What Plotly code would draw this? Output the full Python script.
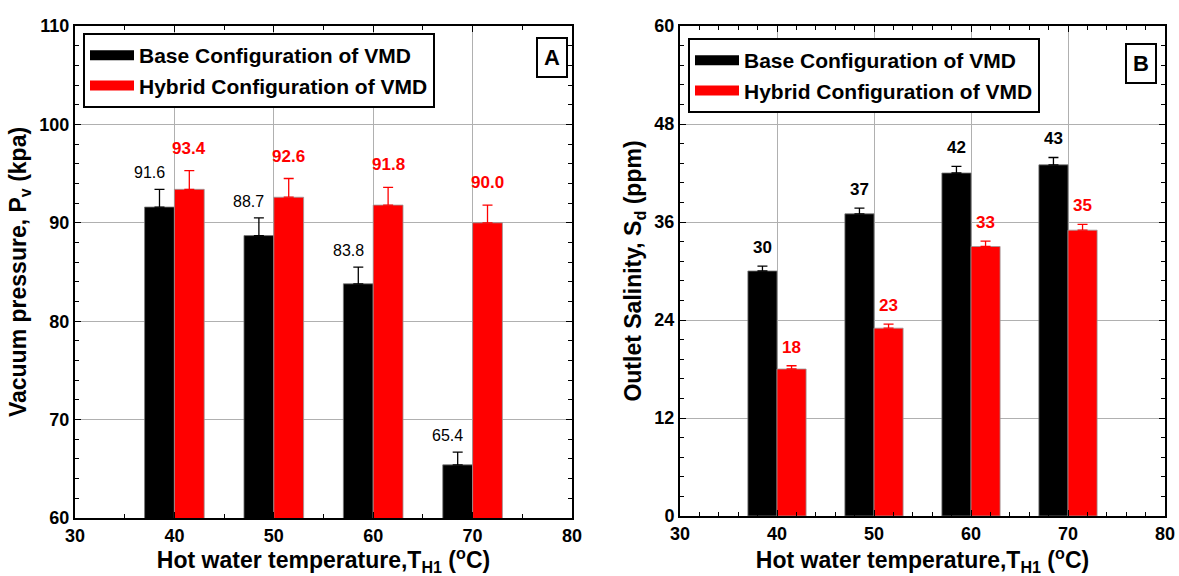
import plotly.graph_objects as go

# ---------------- data ----------------
temps = [40, 50, 60, 70]
series_names = ["Base Configuration of VMD", "Hybrid Configuration of VMD"]

pressure_base = [91.6, 88.7, 83.8, 65.4]
pressure_hybrid = [93.4, 92.6, 91.8, 90.0]
pressure_base_err = [1.8, 1.8, 1.7, 1.3]
pressure_hybrid_err = [1.9, 1.9, 1.8, 1.8]
pressure_base_labels = ["91.6", "88.7", "83.8", "65.4"]
pressure_hybrid_labels = ["93.4", "92.6", "91.8", "90.0"]

salinity_base = [30, 37, 42, 43]
salinity_hybrid = [18, 23, 33, 35]
salinity_base_err = [0.6, 0.7, 0.8, 0.9]
salinity_hybrid_err = [0.4, 0.5, 0.65, 0.7]
salinity_base_labels = ["30", "37", "42", "43"]
salinity_hybrid_labels = ["18", "23", "33", "35"]

x_ticks = [30, 40, 50, 60, 70, 80]
y1_ticks = [60, 70, 80, 90, 100, 110]
y2_ticks = [0, 12, 24, 36, 48, 60]

BLACK = "#000000"
RED = "#ff0000"
FONT = "Liberation Sans, Arial, sans-serif"
BAR_W = 3

W, H = 1179, 576
def px_x(p):
    return p / W
def px_y(p):
    return 1 - p / H

fig = go.Figure()

def add_bars(xa, ya, base, hyb, berr, herr):
    fig.add_trace(go.Bar(
        x=temps, y=base, width=BAR_W, offset=-BAR_W,
        marker=dict(color=BLACK, line=dict(color="#777777", width=0.8)),
        error_y=dict(type="data", array=berr, arrayminus=[0] * len(berr),
                     symmetric=False, color=BLACK, thickness=1.3, width=5),
        xaxis=xa, yaxis=ya, showlegend=False, name=series_names[0]))
    fig.add_trace(go.Bar(
        x=temps, y=hyb, width=BAR_W, offset=0,
        marker=dict(color=RED, line=dict(color="#999999", width=0.8)),
        error_y=dict(type="data", array=herr, arrayminus=[0] * len(herr),
                     symmetric=False, color=RED, thickness=1.3, width=5),
        xaxis=xa, yaxis=ya, showlegend=False, name=series_names[1]))

add_bars("x", "y", pressure_base, pressure_hybrid, pressure_base_err, pressure_hybrid_err)
add_bars("x2", "y2", salinity_base, salinity_hybrid, salinity_base_err, salinity_hybrid_err)

# legend entries (thick line swatches)
for leg, xa, ya in [("legend", "x", "y"), ("legend2", "x2", "y2")]:
    for name, col in zip(series_names, [BLACK, RED]):
        fig.add_trace(go.Scatter(
            x=[None], y=[None], mode="lines", name=name,
            line=dict(color=col, width=17), xaxis=xa, yaxis=ya,
            legend=leg, showlegend=True))

# value labels
annos = []
def add_labels(xref, yref, vals, errs, labels, color, side, bold, xshift, yshift):
    for t, v, e, lab in zip(temps, vals, errs, labels):
        annos.append(dict(
            x=t + side * BAR_W / 2, y=v + e, xref=xref, yref=yref,
            text=("<b>%s</b>" % lab) if bold else lab,
            showarrow=False, yanchor="bottom", xanchor="center",
            xshift=xshift, yshift=yshift,
            font=dict(family=FONT, size=17 if bold else 16, color=color)))

add_labels("x", "y", pressure_base, pressure_base_err, pressure_base_labels, BLACK, -1, False, -10, 6)
add_labels("x", "y", pressure_hybrid, pressure_hybrid_err, pressure_hybrid_labels, RED, 1, True, 0, 11)
add_labels("x2", "y2", salinity_base, salinity_base_err, salinity_base_labels, BLACK, -1, True, 0, 7)
add_labels("x2", "y2", salinity_hybrid, salinity_hybrid_err, salinity_hybrid_labels, RED, 1, True, 0, 7)

# panel letters
for letter, xc, yc in [("A", 552, 58), ("B", 1141, 63)]:
    annos.append(dict(
        x=px_x(xc), y=px_y(yc), xref="paper", yref="paper",
        text="<b>%s</b>" % letter, showarrow=False,
        xanchor="center", yanchor="middle",
        font=dict(family=FONT, size=22, color=BLACK),
        bordercolor=BLACK, borderwidth=2, borderpad=6, bgcolor="white"))

axis_common = dict(
    showline=True, linecolor=BLACK, linewidth=2, mirror="allticks",
    ticks="inside", ticklen=6, tickwidth=1.2, tickcolor=BLACK,
    showgrid=True, gridcolor="#b0b0b0", gridwidth=1,
    zeroline=False, automargin=False,
    tickfont=dict(family=FONT, size=18, color=BLACK, weight="bold"),
)

x_title = "Hot water temperature,T<sub>H1</sub> (<sup>o</sup>C)"
xt_font = dict(family=FONT, size=23, color=BLACK, weight="bold")
yt_font = dict(family=FONT, size=23, color=BLACK, weight="bold")

fig.update_layout(
    width=W, height=H,
    margin=dict(l=0, r=0, t=0, b=0),
    paper_bgcolor="white", plot_bgcolor="white",
    barmode="overlay",
    showlegend=True,
    xaxis=dict(axis_common, domain=[px_x(75), px_x(572)], range=[30, 80],
               tickvals=x_ticks, anchor="y",
               minor=dict(dtick=5, tick0=30, ticks="inside", ticklen=4, tickcolor=BLACK, showgrid=False),
               title=dict(text=x_title, standoff=6, font=xt_font)),
    yaxis=dict(axis_common, domain=[px_y(518), px_y(26)], range=[60, 110],
               tickvals=y1_ticks, anchor="x",
               minor=dict(dtick=2, tick0=60, ticks="inside", ticklen=4, tickcolor=BLACK, showgrid=False),
               title=dict(text="Vacuum pressure, P<sub>v</sub> (kpa)", standoff=6, font=yt_font)),
    xaxis2=dict(axis_common, domain=[px_x(680), px_x(1165)], range=[30, 80],
                tickvals=x_ticks, anchor="y2",
                minor=dict(dtick=2, tick0=30, ticks="inside", ticklen=4, tickcolor=BLACK, showgrid=False),
                title=dict(text=x_title, standoff=6, font=xt_font)),
    yaxis2=dict(axis_common, domain=[px_y(516), px_y(26)], range=[0, 60],
                tickvals=y2_ticks, anchor="x2",
                minor=dict(dtick=2.4, tick0=0, ticks="inside", ticklen=4, tickcolor=BLACK, showgrid=False),
                title=dict(text="Outlet Salinity, S<sub>d</sub> (ppm)", standoff=6, font=yt_font)),
    legend=dict(x=px_x(83), y=px_y(33), xanchor="left", yanchor="top",
                bgcolor="white", bordercolor=BLACK, borderwidth=2,
                font=dict(family=FONT, size=21, color=BLACK, weight="bold"),
                itemwidth=44, tracegroupgap=0),
    legend2=dict(x=px_x(688), y=px_y(38), xanchor="left", yanchor="top",
                 bgcolor="white", bordercolor=BLACK, borderwidth=2,
                 font=dict(family=FONT, size=21, color=BLACK, weight="bold"),
                 itemwidth=44, tracegroupgap=0),
    annotations=annos,
)

fig.write_html("out.html")
